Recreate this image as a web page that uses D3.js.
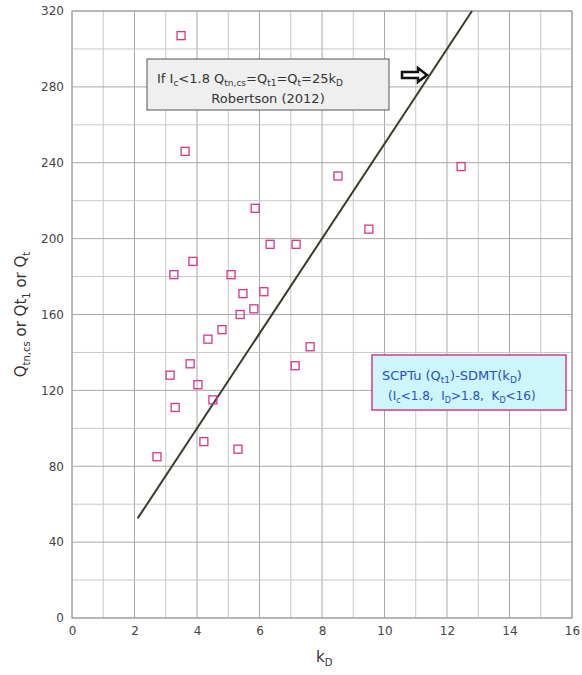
<!DOCTYPE html>
<html><head><meta charset="utf-8">
<script src="https://cdn.jsdelivr.net/npm/d3@7"></script>
<style>body{margin:0;background:#fff;font-family:Tahoma,"DejaVu Sans",sans-serif} text{white-space:pre}</style>
</head><body><svg width="582" height="675"></svg>
<script>
const kD = [3.49,3.62,8.51,12.45,5.86,6.34,7.17,9.5,3.87,3.26,5.09,5.47,6.14,5.82,5.38,4.8,4.35,3.78,7.62,7.14,3.14,4.03,4.51,3.3,4.22,5.31,2.72];
const Qt = [307,246,233,238,216,197,197,205,188,181,181,171,172,163,160,152,147,134,143,133,128,123,115,111,93,89,85];
const lineK = [2.1, 12.8];
const xTicks = d3.range(0, 17, 2);
const yTicks = d3.range(0, 321, 40);

const svg = d3.select("svg");
const x = d3.scaleLinear().domain([0,16]).range([72,572]);
const y = d3.scaleLinear().domain([0,320]).range([618,11]);

const g = svg.append("g");
d3.range(0,17,1).forEach(v => g.append("line").attr("x1",x(v)).attr("x2",x(v)).attr("y1",y(0)).attr("y2",y(320))
  .attr("stroke", v%2 ? "#c8c8c8" : "#a8a8a8").attr("stroke-width",1));
d3.range(0,321,20).forEach(v => g.append("line").attr("y1",y(v)).attr("y2",y(v)).attr("x1",x(0)).attr("x2",x(16))
  .attr("stroke", v%40 ? "#c8c8c8" : "#a8a8a8").attr("stroke-width",1));
g.append("rect").attr("x",x(0)).attr("y",y(320)).attr("width",x(16)-x(0)).attr("height",y(0)-y(320))
  .attr("fill","none").attr("stroke","#999");

svg.append("g").attr("transform",`translate(0,${y(0)})`)
  .call(d3.axisBottom(x).tickValues(xTicks).tickSize(0).tickPadding(8))
  .call(a=>a.select(".domain").remove())
  .selectAll("text").attr("font-size",12).attr("fill","#444").attr("font-family","Tahoma,DejaVu Sans,sans-serif");
svg.append("g").attr("transform",`translate(${x(0)},0)`)
  .call(d3.axisLeft(y).tickValues(yTicks).tickSize(0).tickPadding(8))
  .call(a=>a.select(".domain").remove())
  .selectAll("text").attr("font-size",12).attr("fill","#444").attr("font-family","Tahoma,DejaVu Sans,sans-serif");

svg.append("line").attr("x1",x(lineK[0])).attr("y1",y(25*lineK[0])).attr("x2",x(lineK[1])).attr("y2",y(25*lineK[1]))
  .attr("stroke","#3a3a2a").attr("stroke-width",2);

svg.append("g").selectAll("rect").data(kD).join("rect")
  .attr("x",(d,i)=>x(d)-4).attr("y",(d,i)=>y(Qt[i])-4).attr("width",8).attr("height",8)
  .attr("fill","none").attr("stroke","#d6368a").attr("stroke-width",1.3);

// Robertson box
svg.append("rect").attr("x",147).attr("y",59).attr("width",242).attr("height",51)
  .attr("fill","#efefef").attr("stroke","#555").attr("stroke-width",1);
const t1 = svg.append("text").attr("x",157).attr("y",83).attr("font-size",13).attr("fill","#333");
t1.append("tspan").text("If I");
t1.append("tspan").attr("font-size",9).attr("dy",3).text("c");
t1.append("tspan").attr("dy",-3).text("<1.8 Q");
t1.append("tspan").attr("font-size",9).attr("dy",3).text("tn,cs");
t1.append("tspan").attr("dy",-3).text("=Q");
t1.append("tspan").attr("font-size",9).attr("dy",3).text("t1");
t1.append("tspan").attr("dy",-3).text("=Q");
t1.append("tspan").attr("font-size",9).attr("dy",3).text("t");
t1.append("tspan").attr("dy",-3).text("=25k");
t1.append("tspan").attr("font-size",9).attr("dy",3).text("D");
svg.append("text").attr("x",268).attr("y",103).attr("text-anchor","middle").attr("font-size",13).attr("fill","#333").text("Robertson (2012)");
svg.append("path").attr("d","M402,72 h16 v-4 l9,7 l-9,7 v-4 h-16 z").attr("fill","#fff").attr("stroke","#111").attr("stroke-width",2.5);

// legend box
svg.append("rect").attr("x",372).attr("y",355).attr("width",194).attr("height",55)
  .attr("fill","#ccf6fb").attr("stroke","#d23c82").attr("stroke-width",1.5);
const l1 = svg.append("text").attr("x",382).attr("y",380).attr("font-size",13).attr("fill","#2a4fbf");
l1.append("tspan").text("SCPTu (Q");
l1.append("tspan").attr("font-size",9).attr("dy",3).text("t1");
l1.append("tspan").attr("dy",-3).text(")-SDMT(k");
l1.append("tspan").attr("font-size",9).attr("dy",3).text("D");
l1.append("tspan").attr("dy",-3).text(")");
const l2 = svg.append("text").attr("x",388).attr("y",400).attr("font-size",12).attr("fill","#2a4fbf");
l2.append("tspan").text("(I");
l2.append("tspan").attr("font-size",8).attr("dy",3).text("c");
l2.append("tspan").attr("dy",-3).text("<1.8,  I");
l2.append("tspan").attr("font-size",8).attr("dy",3).text("D");
l2.append("tspan").attr("dy",-3).text(">1.8,  K");
l2.append("tspan").attr("font-size",8).attr("dy",3).text("D");
l2.append("tspan").attr("dy",-3).text("<16)");

// axis titles
const xt = svg.append("text").attr("x",x(8)-6).attr("y",662).attr("font-size",15).attr("fill","#333");
xt.append("tspan").text("k");
xt.append("tspan").attr("font-size",10).attr("dy",4).text("D");
const yt = svg.append("text").attr("transform",`translate(26,${y(160)}) rotate(-90)`).attr("text-anchor","middle").attr("font-size",15).attr("fill","#333");
yt.append("tspan").text("Q");
yt.append("tspan").attr("font-size",10).attr("dy",4).text("tn,cs");
yt.append("tspan").attr("dy",-4).text(" or Qt");
yt.append("tspan").attr("font-size",10).attr("dy",4).text("1");
yt.append("tspan").attr("dy",-4).text(" or Q");
yt.append("tspan").attr("font-size",10).attr("dy",4).text("t");
</script></body></html>
